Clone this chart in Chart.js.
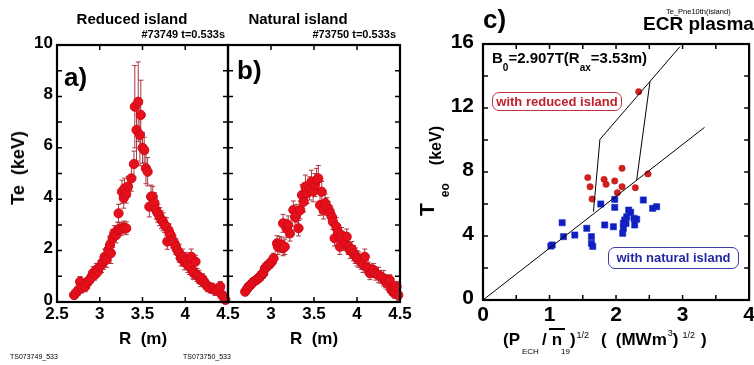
<!DOCTYPE html>
<html>
<head>
<meta charset="utf-8">
<script src="https://cdn.jsdelivr.net/npm/chart.js@4.4.0/dist/chart.umd.min.js"></script>
<style>
  body { margin: 0; background: #fff; }
  #wrap { position: relative; width: 754px; height: 365px; overflow: hidden;
          font-family: "Liberation Sans", Arial, sans-serif; font-weight: bold; color: #000; }
  canvas { position: absolute; left: 0; top: 0; }
  .t { position: absolute; white-space: nowrap; line-height: 1; }
  .rot { transform: translate(-50%, -50%) rotate(-90deg); }
  .box { position: absolute; border-radius: 7px; text-align: center; line-height: 1; font-size: 13px; }
  .sub { font-size: 8px; font-weight: normal; position: relative; top: 9px; }
  .sup { font-size: 9px; font-weight: normal; position: relative; top: -7px; }
</style>
</head>
<body>
<div id="wrap">
  <canvas id="chartA" width="754" height="365"></canvas>
  <canvas id="chartB" width="754" height="365"></canvas>
  <canvas id="chartC" width="754" height="365"></canvas>

  <div class="t" style="left:32px;width:200px;text-align:center;top:11px;font-size:15px">Reduced island</div>
  <div class="t" style="right:529px;top:29px;font-size:11px">#73749 t=0.533s</div>
  <div class="t" style="left:198px;width:200px;text-align:center;top:11px;font-size:15px">Natural island</div>
  <div class="t" style="right:358px;top:29px;font-size:11px">#73750 t=0.533s</div>
  <div class="t" style="left:64px;top:64px;font-size:26px">a)</div>
  <div class="t" style="left:237px;top:57px;font-size:26px">b)</div>
  <div class="t rot" style="left:18px;top:168px;font-size:18px">Te&nbsp; (keV)</div>
  <div class="t" style="left:93px;width:100px;text-align:center;top:330px;font-size:17px">R&nbsp; (m)</div>
  <div class="t" style="left:264px;width:100px;text-align:center;top:330px;font-size:17px">R&nbsp; (m)</div>
  <div class="t" style="left:10px;top:353px;font-size:7px;font-weight:normal">TS073749_533</div>
  <div class="t" style="left:183px;top:353px;font-size:7px;font-weight:normal">TS073750_533</div>

  <div class="t" style="left:483px;top:6px;font-size:26px">c)</div>
  <div class="t" style="left:666px;top:8px;font-size:7.5px;font-weight:normal">Te_Pne10th(island)</div>
  <div class="t" style="left:643px;top:14px;font-size:19px">ECR plasma</div>
  <div class="t" style="left:492px;top:50px;font-size:15px">B<span style="font-size:10px;position:relative;top:8px">0</span>=2.907T(R<span style="font-size:10px;position:relative;top:8px">ax</span>=3.53m)</div>
  <div class="box" style="left:492px;top:92px;width:128px;height:15px;padding-top:2px;border:1.5px solid #c03040;color:#c0202c">with reduced island</div>
  <div class="box" style="left:608px;top:247px;width:129px;height:17px;padding-top:3px;border:1.5px solid #3a3aa8;color:#2428a0">with natural island</div>
  <div class="t" style="left:416px;top:216px;font-size:21px;transform-origin:0 0;transform:rotate(-90deg)">T<span style="font-size:12px;position:relative;top:15px;margin-left:6px">eo</span><span style="font-size:16px;position:relative;top:7px;margin-left:18px">(keV)</span></div>
  <div class="t" style="left:503px;top:331px;font-size:17px">(P<span class="sub" style="margin:0 3px 0 2px">ECH</span>/<span style="border-top:2.5px solid #000;padding:0 3px;margin-left:2px">n</span><span class="sub" style="margin-left:-4px">19</span>)<span class="sup" style="margin-left:1px">1/2</span><span style="margin-left:12px">(</span><span style="margin-left:9px">(MWm</span><span class="sup" style="top:-9px;margin-left:1px">3</span>)<span class="sup" style="margin-left:4px">1/2</span><span style="margin-left:6px">)</span></div>
</div>

<script>
// panel a : reduced island #73749
const rA = [2.70, 2.72, 2.75, 2.77, 2.79, 2.83, 2.85, 2.88, 2.90, 2.92, 2.94, 2.96, 2.98, 3.00, 3.02, 3.04,
  3.06, 3.08, 3.10, 3.12, 3.13, 3.15, 3.17, 3.19, 3.21, 3.23, 3.25, 3.28, 3.31, 3.22, 3.26, 3.29, 3.28, 3.31,
  3.33, 3.37, 3.40, 3.41, 3.45, 3.43, 3.47, 3.48, 3.50, 3.52, 3.54, 3.56, 3.58, 3.60, 3.62, 3.64, 3.66, 3.68,
  3.70, 3.72, 3.74, 3.76, 3.78, 3.79, 3.81, 3.83, 3.85, 3.87, 3.89, 3.91, 3.93, 3.95, 3.97, 3.99, 4.01, 4.03,
  4.05, 4.07, 4.09, 4.10, 4.12, 4.14, 4.16, 4.18, 4.20, 4.22, 4.24, 4.26, 4.29, 4.32, 4.35, 4.38, 4.41, 4.43,
  4.45, 4.47];
const teA = [0.27, 0.35, 0.47, 0.79, 0.55, 0.6, 0.75, 0.86, 0.95, 1.12, 1.05, 1.25, 1.2, 1.37, 1.45, 1.57,
  1.76, 1.65, 2.02, 2.22, 1.9, 2.48, 2.67, 2.6, 2.8, 2.85, 2.83, 2.9, 2.87, 3.45, 4.29, 4.42, 4.05, 4.2,
  4.49, 4.81, 5.37, 7.6, 7.79, 6.69, 6.5, 7.28, 6.0, 5.91, 5.2, 5.07, 3.71, 4.1, 4.1, 3.85, 3.58, 3.45,
  3.32, 3.2, 3.12, 3.0, 2.93, 2.35, 2.74, 2.6, 2.41, 2.3, 2.15, 2.0, 1.9, 1.7, 1.76, 1.55, 1.63, 1.45,
  1.37, 1.76, 1.2, 1.12, 1.57, 1.05, 0.98, 0.85, 0.9, 0.79, 0.7, 0.6, 0.55, 0.53, 0.45, 0.47, 0.6, 0.27,
  0.2, 0.08];
const errA = [0.15, 0.15, 0.2, 0.2, 0.2, 0.2, 0.2, 0.2, 0.2, 0.25, 0.2, 0.25, 0.2, 0.25, 0.3, 0.3,
  0.3, 0.3, 0.35, 0.35, 0.4, 0.35, 0.3, 0.3, 0.3, 0.25, 0.25, 0.25, 0.25, 0.35, 0.45, 0.4, 0.4, 0.35,
  0.4, 0.5, 0.5, 1.6, 1.55, 1.2, 1.2, 1.35, 0.6, 0.5, 0.6, 0.55, 0.4, 0.45, 0.4, 0.4, 0.35, 0.35,
  0.35, 0.35, 0.35, 0.3, 0.35, 0.3, 0.3, 0.3, 0.3, 0.3, 0.3, 0.3, 0.35, 0.3, 0.3, 0.3, 0.3, 0.3,
  0.3, 0.3, 0.3, 0.25, 0.25, 0.25, 0.25, 0.25, 0.2, 0.2, 0.2, 0.2, 0.2, 0.2, 0.2, 0.2, 0.2, 0.2,
  0.2, 0.15];

// panel b : natural island #73750
const rB = [2.70, 2.72, 2.74, 2.76, 2.78, 2.80, 2.83, 2.85, 2.87, 2.89, 2.91, 2.93, 2.95, 2.97, 2.99, 3.01,
  3.03, 3.07, 3.08, 3.10, 3.12, 3.14, 3.16, 3.14, 3.18, 3.20, 3.22, 3.26, 3.28, 3.30, 3.32, 3.34, 3.36, 3.38,
  3.40, 3.42, 3.45, 3.47, 3.49, 3.51, 3.53, 3.55, 3.57, 3.59, 3.61, 3.63, 3.65, 3.67, 3.69, 3.71, 3.72, 3.74,
  3.76, 3.78, 3.80, 3.80, 3.82, 3.84, 3.86, 3.88, 3.90, 3.92, 3.94, 3.96, 3.98, 4.00, 4.02, 4.05, 4.07, 4.09,
  4.11, 4.13, 4.15, 4.17, 4.19, 4.22, 4.25, 4.28, 4.31, 4.33, 4.35, 4.38, 4.40, 4.42, 4.44, 4.46, 4.48];
const teB = [0.4, 0.5, 0.6, 0.65, 0.73, 0.8, 0.86, 0.92, 0.98, 1.05, 1.12, 1.31, 1.38, 1.44, 1.5, 1.57,
  1.7, 2.28, 2.15, 2.25, 2.22, 2.1, 2.15, 3.06, 2.87, 3.0, 2.67, 3.58, 3.3, 3.45, 2.87, 3.58, 4.16, 3.9,
  4.49, 4.23, 4.42, 4.68, 4.3, 4.55, 4.75, 4.81, 3.77, 4.29, 3.58, 3.85, 3.71, 3.6, 3.45, 3.3, 3.12, 2.48,
  2.93, 2.7, 2.54, 2.15, 2.6, 2.41, 2.3, 2.54, 2.15, 2.0, 2.05, 1.9, 1.8, 1.7, 1.65, 1.57, 1.45, 1.76,
  1.37, 1.3, 1.12, 1.2, 1.25, 1.1, 1.05, 0.98, 0.92, 0.8, 0.73, 0.86, 0.47, 0.4, 0.34, 0.6, 0.27];
const errB = [0.15, 0.15, 0.15, 0.15, 0.15, 0.15, 0.15, 0.15, 0.2, 0.2, 0.2, 0.2, 0.2, 0.2, 0.2, 0.2,
  0.2, 0.3, 0.3, 0.3, 0.3, 0.3, 0.3, 0.35, 0.35, 0.35, 0.3, 0.35, 0.35, 0.35, 0.3, 0.35, 0.4, 0.4,
  0.45, 0.4, 0.45, 0.45, 0.4, 0.45, 0.45, 0.5, 0.4, 0.4, 0.35, 0.35, 0.35, 0.3, 0.3, 0.3, 0.3, 0.3,
  0.35, 0.3, 0.3, 0.3, 0.3, 0.3, 0.3, 0.3, 0.3, 0.3, 0.3, 0.3, 0.3, 0.3, 0.3, 0.3, 0.3, 0.3,
  0.25, 0.25, 0.25, 0.25, 0.25, 0.25, 0.3, 0.25, 0.3, 0.25, 0.25, 0.2, 0.2, 0.2, 0.2, 0.2, 0.2];

// panel c : Te0 vs (P/n)^1/2
const redX = [1.575, 1.61, 1.64, 1.82, 1.85, 1.98, 2.02, 2.09, 2.09, 2.29, 2.48, 2.34];
const redY = [7.65, 7.08, 6.31, 7.54, 7.23, 7.44, 6.71, 7.08, 8.23, 7.02, 7.88, 13.02];
const blueX = [1.77, 1.98, 2.41, 1.98, 2.61, 2.55, 2.19, 2.22, 2.27, 2.31, 2.16, 2.13, 2.11, 2.15, 2.28,
  1.83, 1.96, 2.11, 2.10, 1.19, 1.56, 1.38, 1.21, 1.63, 1.63, 1.65, 1.04, 1.02];
const blueY = [6.0, 6.29, 6.25, 5.79, 5.83, 5.73, 5.62, 5.48, 5.1, 5.05, 5.2, 5.0, 4.79, 4.79, 4.69,
  4.69, 4.58, 4.48, 4.17, 4.83, 4.48, 4.06, 3.96, 3.96, 3.54, 3.35, 3.44, 3.37];
const fitX = [0, 3.33];
const fitY = [0, 10.79];
const leftEdgeX = [1.66, 1.758, 2.96];
const leftEdgeY = [5.52, 10.04, 15.83];
const rightEdgeX = [2.31, 2.51];
const rightEdgeY = [7.5, 13.64];

// ticks
const rTicks = [2.5, 3, 3.5, 4, 4.5];
const teTicks = [0, 1, 2, 3, 4, 5, 6, 7, 8, 9, 10];
const teLabels = [0, 2, 4, 6, 8, 10];
const cxTicks = [0, 0.5, 1, 1.5, 2, 2.5, 3, 3.5, 4];
const cxLabels = [0, 1, 2, 3, 4];
const cyTicks = [0, 2, 4, 6, 8, 10, 12, 14, 16];
const cyLabels = [0, 4, 8, 12, 16];

const pts = (xs, ys) => xs.map((x, i) => ({ x: x, y: ys[i] }));

// box, inward ticks on all four sides, tick labels
function makeFrame(o) {
  return {
    id: 'frame',
    afterDraw(chart) {
      const ctx = chart.ctx, a = chart.chartArea;
      const xs = chart.scales.x, ys = chart.scales.y;
      ctx.save();
      ctx.strokeStyle = '#000';
      ctx.lineWidth = 1.5;
      ctx.beginPath();
      o.xTicks.forEach(v => {
        const px = xs.getPixelForValue(v);
        ctx.moveTo(px, a.bottom); ctx.lineTo(px, a.bottom - o.tick);
        ctx.moveTo(px, a.top); ctx.lineTo(px, a.top + o.tick);
      });
      o.yTicks.forEach(v => {
        const py = ys.getPixelForValue(v);
        ctx.moveTo(a.left, py); ctx.lineTo(a.left + o.tick, py);
        ctx.moveTo(a.right, py); ctx.lineTo(a.right - o.tick, py);
      });
      ctx.stroke();
      ctx.lineWidth = 2.2;
      ctx.strokeRect(a.left, a.top, a.right - a.left, a.bottom - a.top);
      ctx.fillStyle = '#000';
      ctx.font = o.font;
      ctx.textAlign = 'center';
      ctx.textBaseline = 'alphabetic';
      o.xLabels.forEach(v => ctx.fillText(String(v), xs.getPixelForValue(v), o.xLabelY));
      ctx.textAlign = 'right';
      ctx.textBaseline = 'middle';
      o.yLabels.forEach(v => ctx.fillText(String(v), o.yLabelX, ys.getPixelForValue(v) - 2));
      ctx.restore();
    }
  };
}

// chart.js has no error bars, so draw them from the dataset's errs
const errorBars = {
  id: 'errorBars',
  beforeDatasetsDraw(chart) {
    const ctx = chart.ctx, xs = chart.scales.x, ys = chart.scales.y;
    chart.data.datasets.forEach(ds => {
      if (!ds.errs) return;
      ctx.save();
      ctx.strokeStyle = '#a8383f';
      ctx.lineWidth = 1;
      ctx.beginPath();
      ds.data.forEach((p, i) => {
        const x = xs.getPixelForValue(p.x);
        const y1 = ys.getPixelForValue(p.y + ds.errs[i]);
        const y2 = ys.getPixelForValue(Math.max(0, p.y - ds.errs[i]));
        ctx.moveTo(x, y1); ctx.lineTo(x, y2);
        ctx.moveTo(x - 2.5, y1); ctx.lineTo(x + 2.5, y1);
        ctx.moveTo(x - 2.5, y2); ctx.lineTo(x + 2.5, y2);
      });
      ctx.stroke();
      ctx.restore();
    });
  }
};

function profileChart(id, r, te, errs, pad, xLabels, yLabels) {
  return new Chart(document.getElementById(id), {
    type: 'scatter',
    data: {
      datasets: [{
        data: pts(r, te),
        errs: errs,
        pointRadius: 4.6,
        pointBackgroundColor: '#e5101c',
        pointBorderColor: '#d00a16',
        pointBorderWidth: 1,
        clip: false
      }]
    },
    options: {
      responsive: false,
      animation: false,
      events: [],
      layout: { padding: pad },
      scales: {
        x: { type: 'linear', min: 2.5, max: 4.5, display: false },
        y: { type: 'linear', min: 0, max: 10, display: false }
      },
      plugins: { legend: { display: false }, tooltip: { enabled: false } }
    },
    plugins: [errorBars, makeFrame({
      xTicks: rTicks, yTicks: teTicks, xLabels: xLabels, yLabels: yLabels,
      tick: 5, font: 'bold 17px "Liberation Sans", Arial, sans-serif', xLabelY: 319, yLabelX: 53
    })]
  });
}

profileChart('chartA', rA, teA, errA, { left: 57, top: 45, right: 526, bottom: 63 }, rTicks, teLabels);
profileChart('chartB', rB, teB, errB, { left: 228, top: 45, right: 354, bottom: 63 }, [3, 3.5, 4, 4.5], []);

const lineDs = (xs, ys) => ({
  data: pts(xs, ys), showLine: true, borderColor: '#000', borderWidth: 1,
  pointRadius: 0, fill: false
});

new Chart(document.getElementById('chartC'), {
  type: 'scatter',
  data: {
    datasets: [
      lineDs(fitX, fitY),
      lineDs(leftEdgeX, leftEdgeY),
      lineDs(rightEdgeX, rightEdgeY),
      {
        data: pts(redX, redY),
        pointRadius: 3.2,
        pointBackgroundColor: '#d02020',
        pointBorderColor: '#c01818',
        pointBorderWidth: 0.5
      },
      {
        data: pts(blueX, blueY),
        pointStyle: 'rect',
        pointRadius: 4.4,
        pointBackgroundColor: '#1020c0',
        pointBorderColor: '#1020c0',
        pointBorderWidth: 0.5
      }
    ]
  },
  options: {
    responsive: false,
    animation: false,
    events: [],
    layout: { padding: { left: 483, top: 44, right: 1, bottom: 65 } },
    scales: {
      x: { type: 'linear', min: 0, max: 4, display: false },
      y: { type: 'linear', min: 0, max: 16, display: false }
    },
    plugins: { legend: { display: false }, tooltip: { enabled: false } }
  },
  plugins: [makeFrame({
    xTicks: cxTicks, yTicks: cyTicks, xLabels: cxLabels, yLabels: cyLabels,
    tick: 5, font: 'bold 21px "Liberation Sans", Arial, sans-serif', xLabelY: 321, yLabelX: 474
  })]
});
</script>
</body>
</html>
